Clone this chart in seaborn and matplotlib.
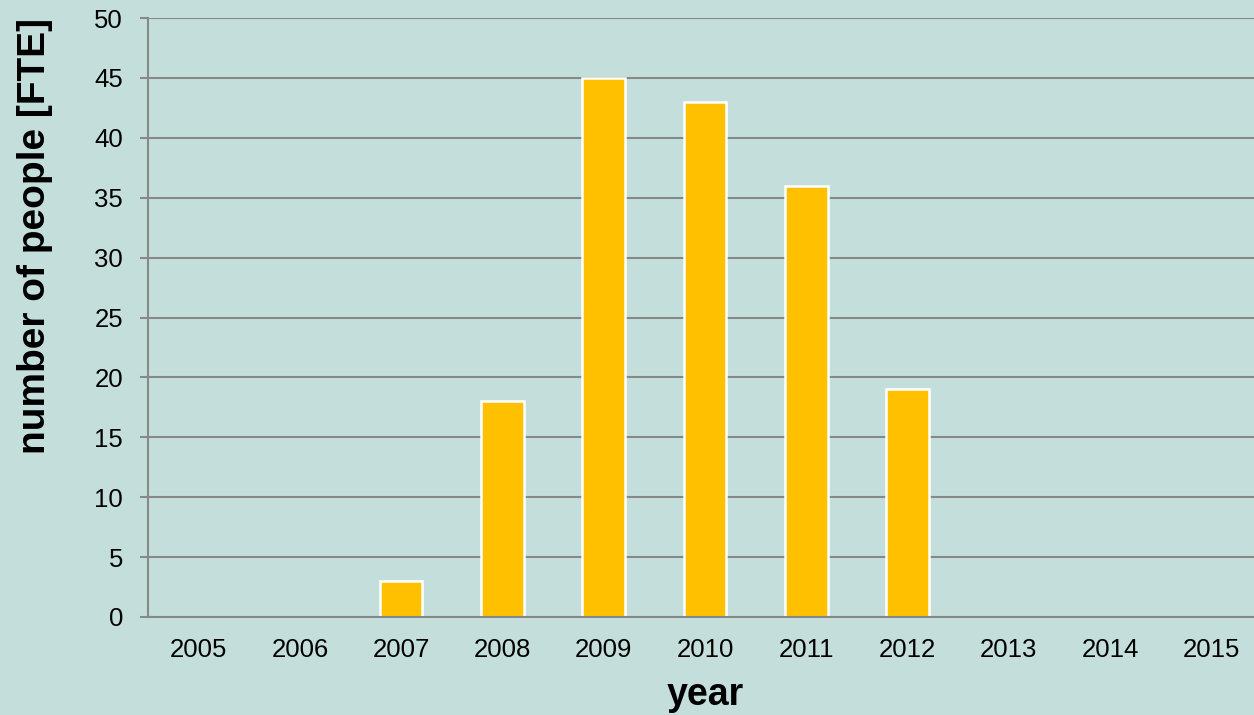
import matplotlib
matplotlib.use("Agg")
import matplotlib.pyplot as plt
import seaborn as sns
import pandas as pd

years = ["2005", "2006", "2007", "2008", "2009", "2010", "2011", "2012", "2013", "2014", "2015"]
people = [0, 0, 3, 18, 45, 43, 36, 19, 0, 0, 0]

sns.set_theme(style="white")
plt.rcParams['font.family'] = ['Liberation Sans', 'DejaVu Sans']

bg = "#C4DFDB"
fig = plt.figure(figsize=(12.54, 7.15), dpi=100, facecolor=bg)
ax_w = 1114
ax = fig.add_axes([148/1254, 98/715, ax_w/1254, (617-18)/715])
ax.set_facecolor(bg)

df = pd.DataFrame({"year": years, "people": people})
sns.barplot(data=df, x="year", y="people", order=years, color="#FFC000",
            saturation=1, width=0.42, edgecolor="white", linewidth=1.8, ax=ax, zorder=3)

ax.set_ylim(0, 50)
ax.set_yticks(range(0, 51, 5))
ax.set_xlim(-0.5, len(years) - 0.5)
ax.grid(axis="y", color="#888888", linewidth=1.5, zorder=0)
ax.set_axisbelow(True)
for s in ["top", "right"]:
    ax.spines[s].set_visible(False)
for s in ["left", "bottom"]:
    ax.spines[s].set_color("#888888")
    ax.spines[s].set_linewidth(1.5)
    ax.spines[s].set_zorder(4)

ax.tick_params(axis="y", left=True, length=6, width=1.5, color="#888888",
               labelsize=18.5, pad=12, labelcolor="black")
ax.tick_params(axis="x", bottom=False, labelsize=18.5, pad=9, labelcolor="black")

ax.set_xlabel("year", fontsize=27, fontweight="bold", color="black")
ax.xaxis.set_label_coords((705 - 148) / ax_w, (617 - 695) / 599)
ax.xaxis.label.set_va("center")
ax.set_ylabel("number of people [FTE]", fontsize=28, fontweight="bold", color="black")
ax.yaxis.set_label_coords(-(148 - 35) / ax_w, (617 - 236) / 599)
ax.yaxis.label.set_va("center")

fig.savefig("out.png", dpi=100, facecolor=bg)
